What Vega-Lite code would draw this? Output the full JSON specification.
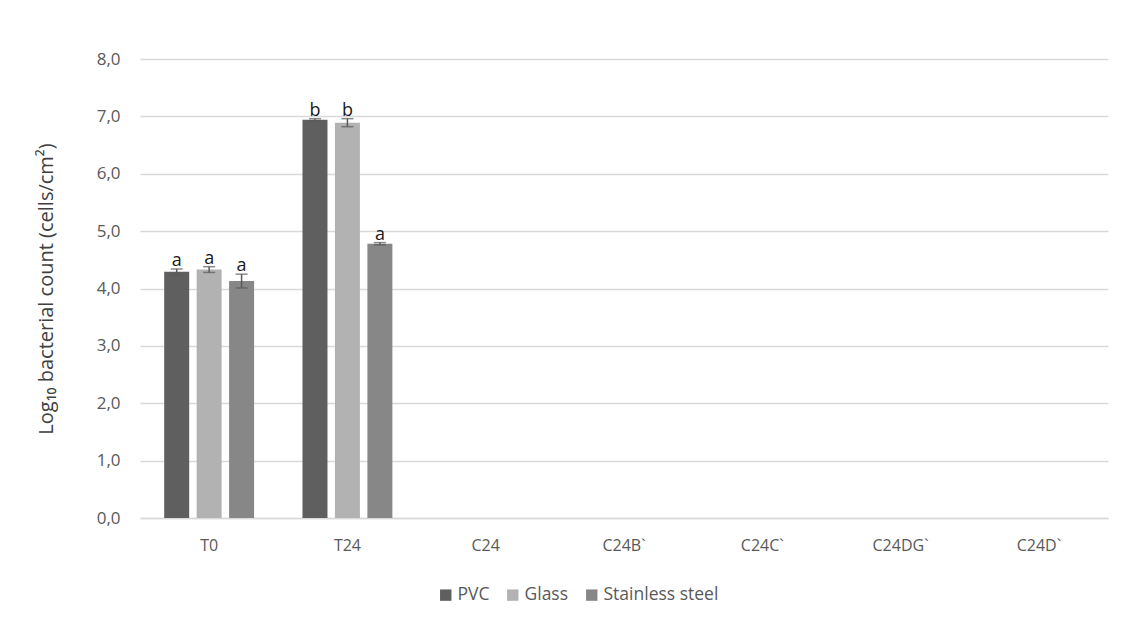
{
  "$schema": "https://vega.github.io/schema/vega-lite/v6.json",
  "autosize": {"type": "none"},
  "width": 968,
  "height": 459,
  "padding": {"left": 140, "top": 59, "right": 20, "bottom": 114},
  "background": "white",
  "config": {
    "font": "Open Sans",
    "view": {"stroke": null},
    "axis": {"labelFont": "Open Sans", "titleFont": "Open Sans", "labelColor": "#595959", "titleColor": "#404040"},
    "legend": {"labelFont": "Open Sans"}
  },
  "data": {
    "values": [
      {"sample": "T0", "surface": "PVC", "count": 4.29, "sd": 0.05, "group": "a"},
      {"sample": "T0", "surface": "Glass", "count": 4.33, "sd": 0.05, "group": "a"},
      {"sample": "T0", "surface": "Stainless steel", "count": 4.13, "sd": 0.12, "group": "a"},
      {"sample": "T24", "surface": "PVC", "count": 6.94, "sd": 0.02, "group": "b"},
      {"sample": "T24", "surface": "Glass", "count": 6.89, "sd": 0.07, "group": "b"},
      {"sample": "T24", "surface": "Stainless steel", "count": 4.78, "sd": 0.02, "group": "a"}
    ]
  },
  "transform": [
    {"calculate": "datum.count - datum.sd", "as": "low"},
    {"calculate": "datum.count + datum.sd", "as": "high"}
  ],
  "encoding": {
    "x": {
      "field": "sample",
      "type": "nominal",
      "scale": {"domain": ["T0", "T24", "C24", "C24B`", "C24C`", "C24DG`", "C24D`"], "paddingInner": 0.35, "paddingOuter": 0.175},
      "axis": {"title": null, "labelAngle": 0, "labelFontSize": 16, "labelPadding": 19, "ticks": false, "domainColor": "#d9d9d9", "domainWidth": 1.5}
    },
    "xOffset": {
      "field": "surface",
      "type": "nominal",
      "sort": ["PVC", "Glass", "Stainless steel"],
      "scale": {"paddingInner": 0.23}
    }
  },
  "layer": [
    {
      "mark": {"type": "bar"},
      "encoding": {
        "y": {
          "field": "count",
          "type": "quantitative",
          "scale": {"domain": [0, 8]},
          "axis": {
            "title": "Log₁₀ bacterial count  (cells/cm²)",
            "titleFontSize": 20,
            "titleFontWeight": "normal",
            "titlePadding": 40,
            "values": [0, 1, 2, 3, 4, 5, 6, 7, 8],
            "labelOverlap": false,
            "labelExpr": "replace(format(datum.value, '.1f'), '.', ',')",
            "labelFontSize": 17,
            "labelPadding": 20,
            "ticks": false,
            "domain": false,
            "gridColor": "#d9d9d9",
            "gridWidth": 1.5
          }
        },
        "color": {
          "field": "surface",
          "type": "nominal",
          "sort": ["PVC", "Glass", "Stainless steel"],
          "scale": {"domain": ["PVC", "Glass", "Stainless steel"], "range": ["#5f5f5f", "#b2b2b2", "#878787"]},
          "legend": {
            "title": null,
            "orient": "none",
            "direction": "horizontal",
            "legendX": 297,
            "legendY": 527,
            "symbolType": "square",
            "symbolSize": 130,
            "symbolStrokeWidth": 0,
            "labelFontSize": 17.5,
            "labelColor": "#595959",
            "labelOffset": 3,
            "columnPadding": 14
          }
        }
      }
    },
    {
      "mark": {"type": "rule", "color": "#595959", "strokeWidth": 1.5},
      "encoding": {
        "y": {"field": "low", "type": "quantitative"},
        "y2": {"field": "high"}
      }
    },
    {
      "mark": {"type": "tick", "color": "#595959", "thickness": 1.5, "size": 12, "orient": "horizontal"},
      "encoding": {"y": {"field": "low", "type": "quantitative"}}
    },
    {
      "mark": {"type": "tick", "color": "#595959", "thickness": 1.5, "size": 12, "orient": "horizontal"},
      "encoding": {"y": {"field": "high", "type": "quantitative"}}
    },
    {
      "mark": {"type": "text", "baseline": "bottom", "dy": 1, "fontSize": 18, "color": "#1a1a1a", "font": "Open Sans"},
      "encoding": {
        "y": {"field": "high", "type": "quantitative"},
        "text": {"field": "group"}
      }
    }
  ]
}
